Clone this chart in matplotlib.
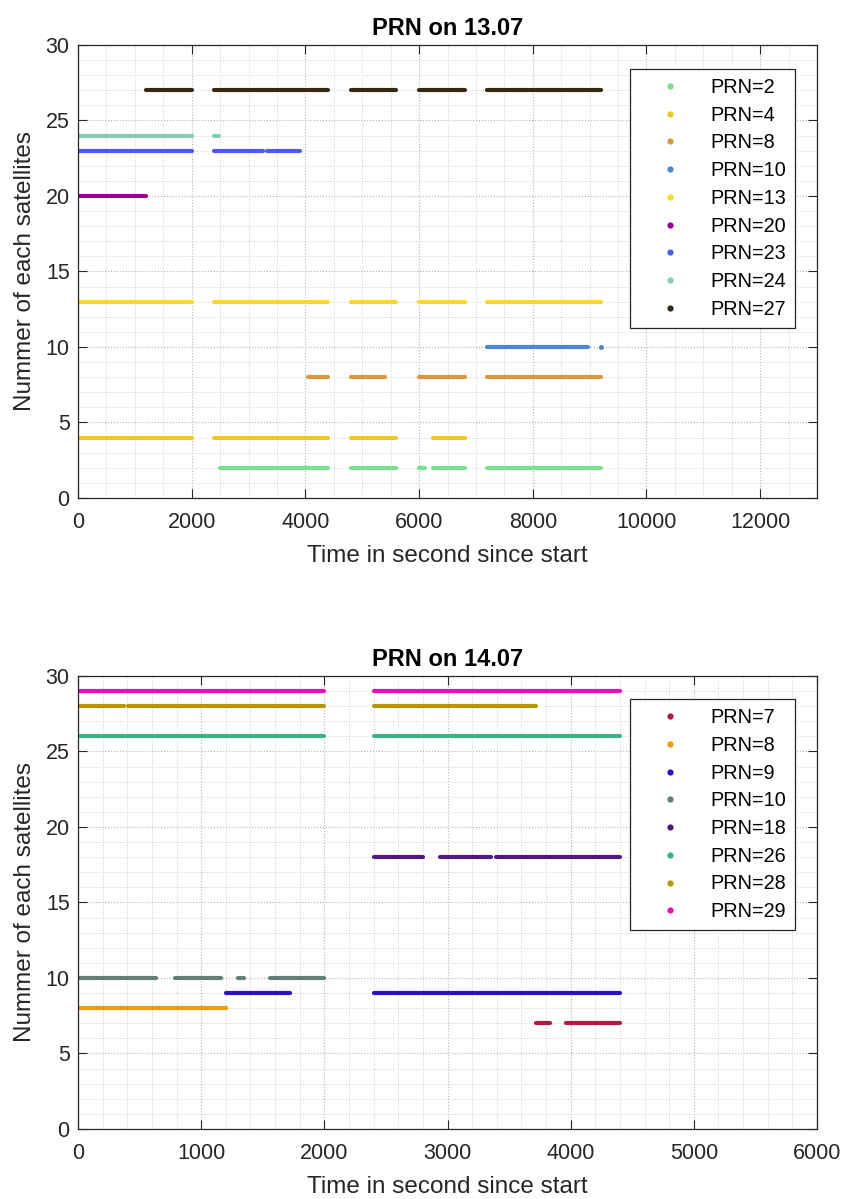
import numpy as np
import matplotlib
matplotlib.use('Agg')
import matplotlib.pyplot as plt
from matplotlib.lines import Line2D
from matplotlib.ticker import MultipleLocator

plt.rcParams['font.family'] = ['Liberation Sans', 'DejaVu Sans']

# 13.07 - visible time windows (seconds since start) for each satellite
prn_day1 = [2, 4, 8, 10, 13, 20, 23, 24, 27]
col_day1 = ['#77e28e', '#ecc91d', '#d69840', '#4d84d4', '#fbd92a',
            '#960096', '#4b5af0', '#82cdb4', '#372814']
seg_day1 = [
    [(2500, 4400), (4800, 5600), (6000, 6100), (6250, 6800), (7200, 9200)],
    [(0, 2000), (2400, 4400), (4800, 5600), (6250, 6800)],
    [(4050, 4400), (4800, 5400), (6000, 6800), (7200, 9200)],
    [(7200, 8980), (9200, 9200)],
    [(0, 2000), (2400, 4400), (4800, 5600), (6000, 6800), (7200, 9200)],
    [(0, 1200)],
    [(0, 2000), (2400, 3250), (3320, 3900)],
    [(0, 2000), (2400, 2480)],
    [(1200, 2000), (2400, 4400), (4800, 5600), (6000, 6800), (7200, 9200)],
]

# 14.07
prn_day2 = [7, 8, 9, 10, 18, 26, 28, 29]
col_day2 = ['#aa1e3c', '#f09b00', '#2a10c8', '#647d78', '#501982',
            '#3cb482', '#b99600', '#f00abe']
seg_day2 = [
    [(3720, 3830), (3960, 4400)],
    [(0, 1200)],
    [(1200, 1720), (2400, 4400)],
    [(0, 630), (790, 1160), (1300, 1345), (1560, 2000)],
    [(2400, 2800), (2940, 3350), (3390, 4400)],
    [(0, 2000), (2400, 4400)],
    [(0, 370), (410, 2000), (2400, 3720)],
    [(0, 2000), (2400, 4400)],
]

LW = 3.0
fig = plt.figure(figsize=(8.45, 11.99), dpi=100)


def prn_panel(rect, prns, cols, segs, xmax, xstep, xminor, title, leg_anchor):
    ax = fig.add_axes(rect)
    for prn, c, sl in zip(prns, cols, segs):
        for t0, t1 in sl:
            if t0 == t1:
                # single epoch -> just a dot
                ax.plot([t0], [prn], 'o', color=c, ms=LW + 0.6, mew=0)
            else:
                ax.plot([t0, t1], [prn, prn], '-', color=c, lw=LW,
                        solid_capstyle='round')
    ax.set_xlim(0, xmax)
    ax.set_ylim(0, 30)
    ax.xaxis.set_major_locator(MultipleLocator(xstep))
    ax.xaxis.set_minor_locator(MultipleLocator(xminor))
    ax.yaxis.set_major_locator(MultipleLocator(5))
    ax.yaxis.set_minor_locator(MultipleLocator(1))
    ax.grid(which='major', ls=':', color='#b4b4b4', lw=0.8)
    ax.grid(which='minor', ls=':', color='#d0d0d0', lw=0.7)
    ax.set_axisbelow(True)
    ax.tick_params(which='major', direction='in', length=6.5, width=0.8,
                   top=True, right=True, labelsize=15.5, colors='#262626')
    ax.tick_params(axis='x', which='major', pad=10)
    ax.tick_params(axis='y', which='major', pad=6)
    ax.tick_params(which='minor', length=0)
    for s in ax.spines.values():
        s.set_color('#262626')
        s.set_linewidth(0.9)
    ax.set_xlabel('Time in second since start', fontsize=17.5,
                  color='#262626', labelpad=9)
    ax.set_ylabel('Nummer of each satellites', fontsize=17.5,
                  color='#262626', labelpad=7)
    ax.set_title(title, fontsize=17, fontweight='bold', pad=7)

    handles = [Line2D([], [], ls='none', marker='o', ms=4.5, mew=0, color=c)
               for c in cols]
    labels = ['PRN=%d' % p for p in prns]
    leg = ax.legend(handles, labels, loc='upper right', bbox_to_anchor=leg_anchor,
                    fontsize=14.3, fancybox=False, framealpha=1,
                    edgecolor='#262626', handlelength=3.2, handletextpad=0.4,
                    borderpad=0.45, labelspacing=0.44, borderaxespad=0)
    leg.get_frame().set_linewidth(0.9)
    return ax


prn_panel([0.0923, 0.5847, 0.8746, 0.3778], prn_day1, col_day1, seg_day1,
          13000, 2000, 500, 'PRN on 13.07', (0.970, 0.947))
prn_panel([0.0923, 0.0584, 0.8746, 0.3778], prn_day2, col_day2, seg_day2,
          6000, 1000, 200, 'PRN on 14.07', (0.970, 0.949))

fig.savefig('out.png', dpi=100)
